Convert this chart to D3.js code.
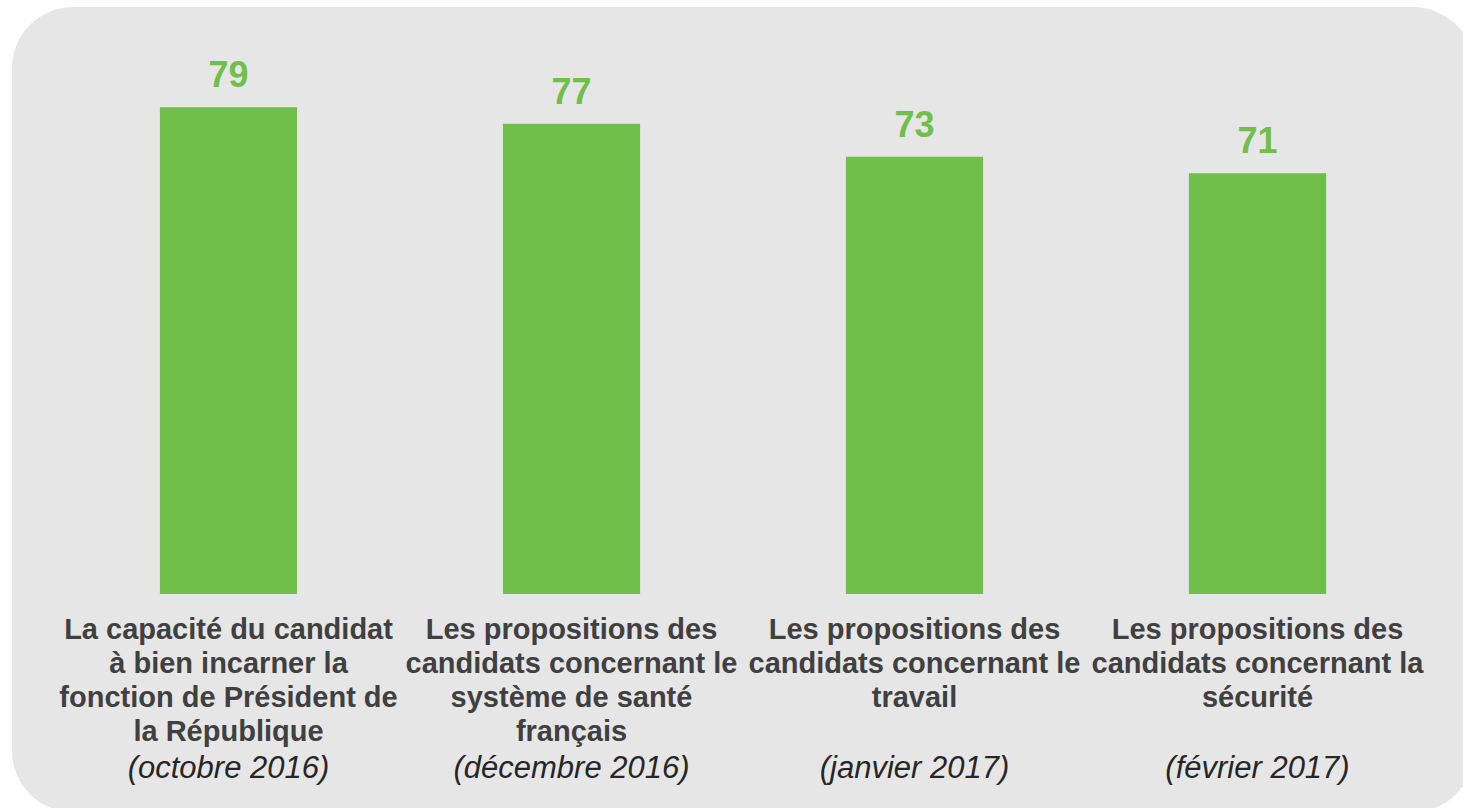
<!DOCTYPE html>
<html>
<head>
<meta charset="utf-8">
<script src="https://cdn.jsdelivr.net/npm/d3@7"></script>
<style>
  body { margin: 0; background: #ffffff; }
  svg { display: block; }
</style>
</head>
<body>
<svg id="chart" width="1463" height="808"></svg>
<script>
// chart data
const categories = ["capacite", "sante", "travail", "securite"];
const values = [79, 77, 73, 71];
const labelLines = [
  ["La capacité du candidat", "à bien incarner la", "fonction de Président de", "la République"],
  ["Les propositions des", "candidats concernant le", "système de santé", "français"],
  ["Les propositions des", "candidats concernant le", "travail"],
  ["Les propositions des", "candidats concernant la", "sécurité"]
];
const periods = ["(octobre 2016)", "(décembre 2016)", "(janvier 2017)", "(février 2017)"];

const green = "#70bf4b";
const svg = d3.select("#chart");

// fond gris arrondi
svg.append("rect")
  .attr("x", 12)
  .attr("y", 7)
  .attr("width", 1462)
  .attr("height", 805)
  .attr("rx", 61)
  .attr("fill", "#e6e6e6");

const x = d3.scaleBand()
  .domain(categories)
  .range([57, 1429])
  .paddingInner(0.6)
  .paddingOuter(0.3);

const y = d3.scaleLinear()
  .domain([20, 80])
  .range([594, 99]);

const data = categories.map((c, i) => ({ key: c, value: values[i], lines: labelLines[i], period: periods[i] }));

// bars
svg.append("g")
  .selectAll("rect")
  .data(data)
  .join("rect")
  .attr("x", d => x(d.key))
  .attr("y", d => y(d.value))
  .attr("width", x.bandwidth())
  .attr("height", d => y(20) - y(d.value))
  .attr("fill", green);

// valeurs au-dessus des bars
svg.append("g")
  .selectAll("text")
  .data(data)
  .join("text")
  .attr("x", d => x(d.key) + x.bandwidth() / 2)
  .attr("y", d => y(d.value) - 20)
  .attr("text-anchor", "middle")
  .attr("font-family", "Liberation Sans, Arial, sans-serif")
  .attr("font-weight", "bold")
  .attr("font-size", "36px")
  .attr("fill", green)
  .text(d => d.value);

// labels onder de bars
const labels = svg.append("g")
  .selectAll("g")
  .data(data)
  .join("g")
  .attr("transform", d => `translate(${x(d.key) + x.bandwidth() / 2},0)`);

labels.selectAll("text.line")
  .data(d => d.lines)
  .join("text")
  .attr("class", "line")
  .attr("y", (d, i) => 639 + i * 34)
  .attr("text-anchor", "middle")
  .attr("font-family", "Liberation Sans, Arial, sans-serif")
  .attr("font-weight", "bold")
  .attr("font-size", "29px")
  .attr("fill", "#404040")
  .text(d => d);

labels.append("text")
  .attr("y", 778)
  .attr("text-anchor", "middle")
  .attr("font-family", "Liberation Sans, Arial, sans-serif")
  .attr("font-style", "italic")
  .attr("font-size", "31px")
  .attr("fill", "#262626")
  .text(d => d.period);
</script>
</body>
</html>
